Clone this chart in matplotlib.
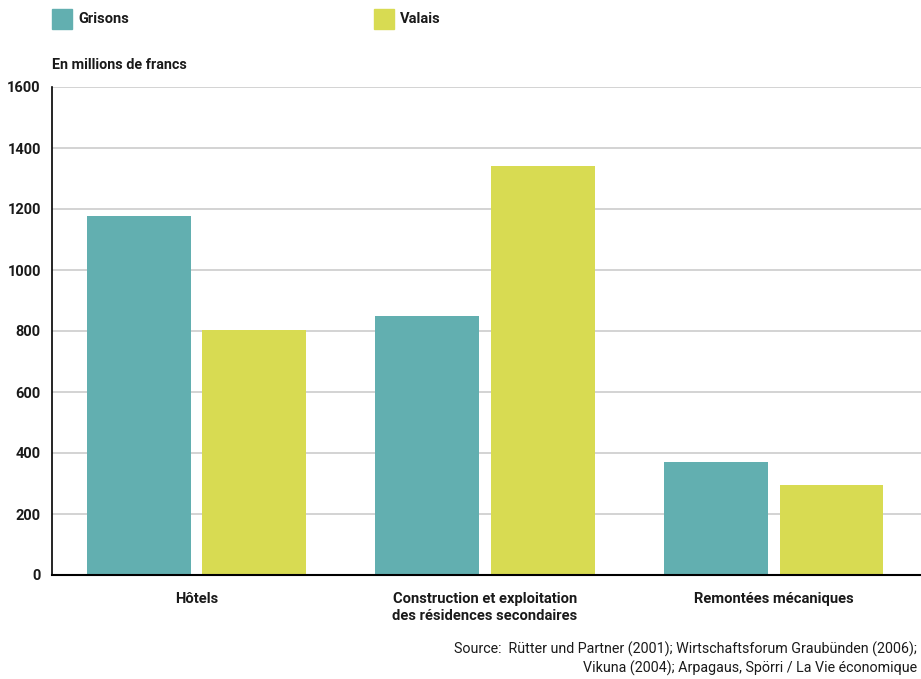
import matplotlib
matplotlib.use("Agg")
import matplotlib.pyplot as plt
import numpy as np

categories = ["Hôtels", "Construction et exploitation\ndes résidences secondaires", "Remontées mécaniques"]
series_names = ["Grisons", "Valais"]
grisons = [1177, 849, 370]
valais = [802, 1341, 295]
yticks = [0, 200, 400, 600, 800, 1000, 1200, 1400, 1600]
colors = ["#62AFB0", "#D8DB52"]

plt.rcParams['font.family'] = ['Roboto', 'DejaVu Sans']

fig = plt.figure(figsize=(9.21, 6.79), dpi=100)
ax = fig.add_axes([52/921, 1-575/679, 1-52/921, (575-87)/679])

x = np.arange(len(categories))
w = 0.36
ax.bar(x - 0.2, grisons, width=w, color=colors[0], zorder=3)
ax.bar(x + 0.2, valais, width=w, color=colors[1], zorder=3)

ax.set_xlim(-0.5, 2.51)
ax.set_ylim(0, 1600)
ax.set_yticks(yticks)
ax.set_yticklabels([str(t) for t in yticks], fontsize=10.5, fontweight='bold', color='#1a1a1a')
ax.tick_params(axis='y', length=0, pad=8)
ax.set_xticks(x)
ax.set_xticklabels(categories, fontsize=10.6, fontweight='bold', color='#1a1a1a', linespacing=1.3)
ax.tick_params(axis='x', length=0, pad=12)
for lab in ax.get_xticklabels():
    lab.set_verticalalignment('top')

ax.grid(axis='y', color='#d3d3d3', linewidth=1.4, zorder=0)
for s in ['top', 'right']:
    ax.spines[s].set_visible(False)
ax.spines['left'].set_color('black')
ax.spines['left'].set_linewidth(1.2)
ax.spines['bottom'].set_color('black')
ax.spines['bottom'].set_linewidth(1.5)
ax.spines['bottom'].set_zorder(4)

# Legend
for i, (name, xpx) in enumerate(zip(series_names, [52, 374])):
    fig.patches.append(plt.Rectangle((xpx/921, 1-29/679), 20/921, 20/679,
                                     transform=fig.transFigure, color=colors[i]))
    fig.text((xpx+26)/921, 1-19/679, name, fontsize=10.5, fontweight='bold',
             va='center', ha='left', color='#1a1a1a')

fig.text(52/921, 1-65/679, "En millions de francs", fontsize=10.4, fontweight='bold',
         va='center', ha='left', color='#1a1a1a')

fig.text(917/921, 1-658.5/679,
         "Source:  Rütter und Partner (2001); Wirtschaftsforum Graubünden (2006);\nVikuna (2004); Arpagaus, Spörri / La Vie économique",
         fontsize=10.3, ha='right', va='center', color='#1a1a1a', linespacing=1.3)

fig.savefig("out.png", dpi=100)
